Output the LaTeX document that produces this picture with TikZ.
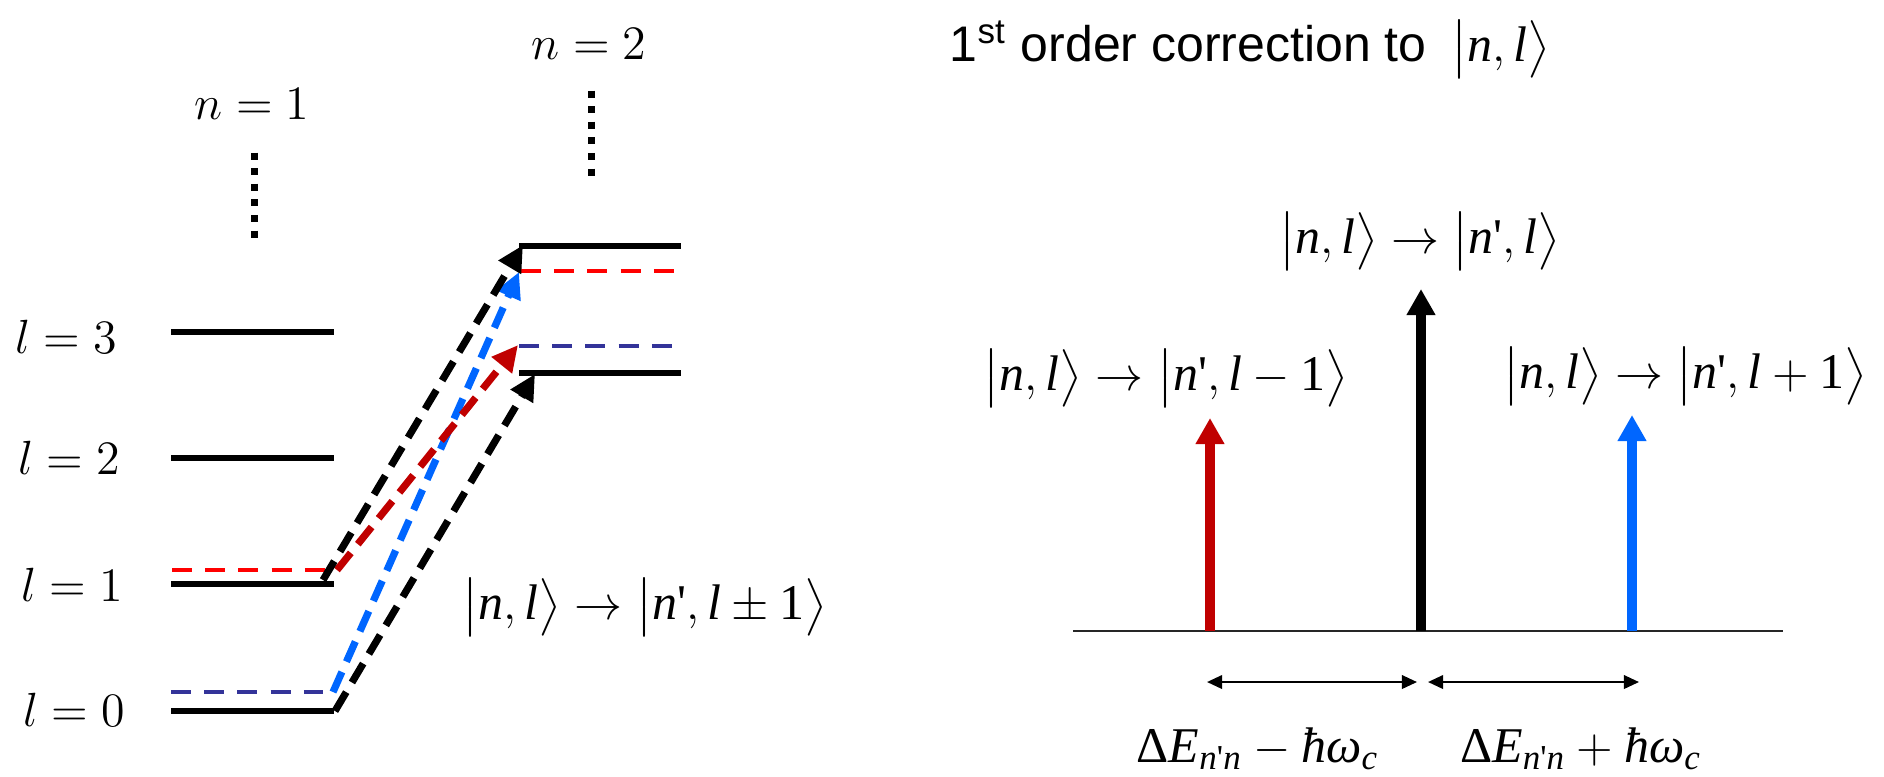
\documentclass[tikz,border=0pt]{standalone}
\usepackage{amsmath}
\usepackage{fontspec}
\setmainfont{Liberation Serif}
\newfontfamily\arialf{Liberation Sans}
\usetikzlibrary{arrows.meta}
\definecolor{lvred}{RGB}{255,0,0}
\definecolor{arred}{RGB}{192,0,0}
\definecolor{arblue}{RGB}{0,102,255}
\definecolor{navyc}{RGB}{51,51,153}
\newcommand{\ti}[1]{\text{\textit{#1}}}
\newcommand{\kt}[1]{\bigl|#1\bigr\rangle}
\newcommand{\pr}{\text{\textquotesingle}}
\begin{document}
\begin{tikzpicture}[x=0.25pt,y=-0.25pt,
  level/.style={line width=1.4pt},
  dlevel/.style={line width=1.15pt, dash pattern=on 5pt off 3.3pt},
  trans/.style={line width=1.8pt, dash pattern=on 5.5pt off 2.8pt, -{Triangle[length=6.5pt,width=6.2pt]}},
  bigarrow/.style={line width=2.3pt, -{Triangle[length=6.5pt,width=6.8pt]}},
  dbl/.style={line width=0.55pt, {Triangle[length=3.8pt,width=3.4pt]}-{Triangle[length=3.8pt,width=3.4pt]}},
  dots/.style={line width=1.75pt, dash pattern=on 1.75pt off 2.15pt},
  lab/.style={inner sep=0pt, font=\fontsize{12}{14}\selectfont},
  ketlab/.style={inner sep=0pt, font=\fontsize{12.5}{15}\selectfont},
]
\useasboundingbox (0,0) rectangle (1884,776);

% ---------- left: energy levels ----------
\coordinate (L3a) at (171,332); \coordinate (L3b) at (334,332);
\coordinate (L2a) at (171,458); \coordinate (L2b) at (334,458);
\coordinate (L1a) at (171,584); \coordinate (L1b) at (334,584);
\coordinate (L1ra) at (172,570); \coordinate (L1rb) at (325,570);
\coordinate (L0a) at (171,711); \coordinate (L0b) at (334,711);
\coordinate (L0ba) at (171,692); \coordinate (L0bb) at (323,692);
\coordinate (U1a) at (519,246); \coordinate (U1b) at (681,246);
\coordinate (U1ra) at (521,271); \coordinate (U1rb) at (676,271);
\coordinate (U0ba) at (519,346); \coordinate (U0bb) at (673,346);
\coordinate (U0a) at (519,373); \coordinate (U0b) at (681,373);

\draw[level] (L3a) -- (L3b);
\draw[level] (L2a) -- (L2b);
\draw[level] (L1a) -- (L1b);
\draw[level] (L0a) -- (L0b);
\draw[dlevel, lvred] (L1ra) -- (L1rb);
\draw[dlevel, navyc] (L0ba) -- (L0bb);
\draw[level] (U1a) -- (U1b);
\draw[level] (U0a) -- (U0b);
\draw[dlevel, lvred] (U1ra) -- (U1rb);
\draw[dlevel, navyc] (U0ba) -- (U0bb);

% transitions
\coordinate (s1) at (323,580); \coordinate (e1) at (523,245);
\coordinate (s2) at (333,692); \coordinate (e2) at (519,272);
\coordinate (s3) at (337,570); \coordinate (e3) at (518,345);
\coordinate (s4) at (335,711); \coordinate (e4) at (535,374);
\draw[trans, black] (s4) -- (e4);
\draw[trans, arblue] (s2) -- (e2);
\draw[trans, arred] (s3) -- (e3);
\draw[trans, black] (s1) -- (e1);

% labels
\node[lab] (l3) at (66,337) {$l = 3$};
\node[lab] (l2) at (69,458) {$l = 2$};
\node[lab] (l1) at (72,585) {$l = 1$};
\node[lab] (l0) at (74,710) {$l = 0$};
\node[lab] (n1) at (252,104) {$n = 1$};
\node[lab] (n2) at (589,44) {$n = 2$};

\coordinate (d1a) at (254,152.5); \coordinate (d1b) at (254,238);
\coordinate (d2a) at (591,90.5); \coordinate (d2b) at (591,176);
\draw[dots] (d1a) -- (d1b);
\draw[dots] (d2a) -- (d2b);

\node[ketlab] (kpm) at (645,607) {$\kt{\ti{n},\ti{l}}\rightarrow\kt{\ti{n}\pr,\ti{l}\pm\text{1}}$};

% ---------- right panel ----------
\node[inner sep=0pt, font=\arialf\fontsize{12.5}{15}\selectfont] (title) at (1250,49)
  {1\textsuperscript{st} order correction to\enspace{\rmfamily$\kt{\ti{n},\ti{l}}$}};

\coordinate (axa) at (1073,631); \coordinate (axb) at (1783,631);
\draw[line width=0.5pt, black!85] (axa) -- (axb);

\coordinate (rb) at (1210,631); \coordinate (rt) at (1210,418);
\coordinate (kb) at (1421,631); \coordinate (kt) at (1421,289);
\coordinate (bb) at (1632,631); \coordinate (bt) at (1632,415);
\draw[bigarrow, arred] (rb) -- (rt);
\draw[bigarrow, black] (kb) -- (kt);
\draw[bigarrow, arblue] (bb) -- (bt);

\node[ketlab] (k0) at (1420,241) {$\kt{\ti{n},\ti{l}}\rightarrow\kt{\ti{n}\pr,\ti{l}}$};
\node[ketlab] (km) at (1166,378) {$\kt{\ti{n},\ti{l}}\rightarrow\kt{\ti{n}\pr,\ti{l}-\text{1}}$};
\node[ketlab] (kp) at (1685,376) {$\kt{\ti{n},\ti{l}}\rightarrow\kt{\ti{n}\pr,\ti{l}+\text{1}}$};

\coordinate (da1) at (1207,682); \coordinate (db1) at (1417,682);
\coordinate (da2) at (1428,682); \coordinate (db2) at (1639,682);
\draw[dbl] (da1) -- (db1);
\draw[dbl] (da2) -- (db2);

\node[ketlab, anchor=base] (em) at (1258,762) {$\text{Δ\textit{E}}_{\ti{n}\pr\ti{n}}-\text{\textit{ħω}}_{\ti{c}}$};
\node[ketlab, anchor=base] (ep) at (1581,762) {$\text{Δ\textit{E}}_{\ti{n}\pr\ti{n}}+\text{\textit{ħω}}_{\ti{c}}$};
\end{tikzpicture}
\end{document}
